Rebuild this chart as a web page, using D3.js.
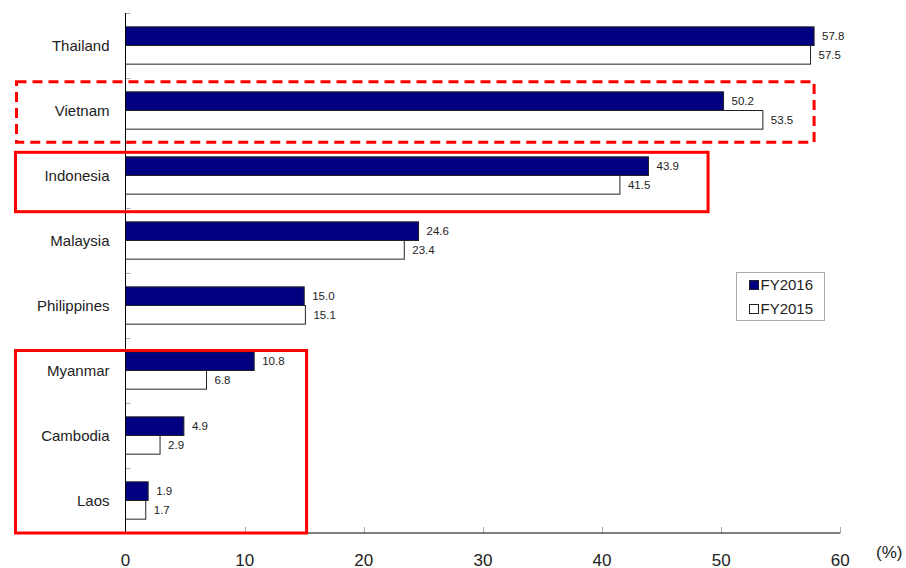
<!DOCTYPE html>
<html>
<head>
<meta charset="utf-8">
<script src="https://cdn.jsdelivr.net/npm/d3@7"></script>
<style>
  html, body { margin: 0; padding: 0; background: #fff; }
  svg { display: block; font-family: Arial, "Liberation Sans", sans-serif; }
</style>
</head>
<body>
<svg id="chart" width="906" height="568"></svg>
<script>
const categories = ["Thailand", "Vietnam", "Indonesia", "Malaysia", "Philippines", "Myanmar", "Cambodia", "Laos"];
const fy2016 = [57.8, 50.2, 43.9, 24.6, 15.0, 10.8, 4.9, 1.9];
const fy2015 = [57.5, 53.5, 41.5, 23.4, 15.1, 6.8, 2.9, 1.7];
const seriesNames = ["FY2016", "FY2015"];
const xTicks = [0, 10, 20, 30, 40, 50, 60];
// highlight boxes: first/last category, right edge in data units
const highlights = [
  { from: "Vietnam", to: "Vietnam", xRight: 57.8, dashed: true, top: 3.7, bottom: -0.7, left: 16.5 },
  { from: "Indonesia", to: "Indonesia", xRight: 48.9, dashed: false, top: 9.3, bottom: 3.7, left: 15.5 },
  { from: "Myanmar", to: "Laos", xRight: 15.2, dashed: false, top: 12.5, bottom: 0, left: 15.5 }
];

const svg = d3.select("#chart");
const x = d3.scaleLinear().domain([0, 60]).range([125.5, 840.3]);
const yOuter = d3.scaleBand().domain(categories).range([13, 533]);
const y = d3.scaleBand().domain(categories).range([13, 533]).paddingInner(0.426).paddingOuter(0.213);
const ySub = d3.scaleBand().domain(seriesNames).range([0, y.bandwidth()]);
const fills = { FY2016: "#000080", FY2015: "#ffffff" };

const data = categories.map((c, i) => ({ cat: c, values: [
  { s: "FY2016", v: fy2016[i] }, { s: "FY2015", v: fy2015[i] }
]}));

// y axis category-boundary ticks
const bounds = categories.map(c => yOuter(c));
svg.append("g").selectAll("line").data(bounds).join("line")
  .attr("x1", x(0)).attr("x2", x(0) + 5)
  .attr("y1", d => Math.round(d) + 0.5).attr("y2", d => Math.round(d) + 0.5)
  .attr("stroke", "#aaa").attr("stroke-width", 1);

// x axis ticks (inner, upward)
svg.append("g").selectAll("line").data(xTicks.slice(1)).join("line")
  .attr("x1", d => Math.round(x(d)) + 0.5).attr("x2", d => Math.round(x(d)) + 0.5)
  .attr("y1", 533).attr("y2", 527)
  .attr("stroke", "#aaa").attr("stroke-width", 1);

// bars
const groups = svg.append("g").selectAll("g").data(data).join("g")
  .attr("transform", d => `translate(0,${y(d.cat)})`);

groups.selectAll("rect").data(d => d.values).join("rect")
  .attr("x", x(0))
  .attr("y", d => ySub(d.s))
  .attr("width", d => x(d.v) - x(0))
  .attr("height", ySub.bandwidth())
  .attr("fill", d => fills[d.s])
  .attr("stroke", "#222").attr("stroke-width", 1);

groups.selectAll("text").data(d => d.values).join("text")
  .attr("x", d => x(d.v) + 8)
  .attr("y", d => ySub(d.s) + ySub.bandwidth() / 2)
  .attr("dy", "0.36em")
  .attr("font-size", 11.5).attr("fill", "#222")
  .text(d => d.v.toFixed(1));

// axis lines
svg.append("line").attr("x1", x(0)).attr("x2", x(0)).attr("y1", 13).attr("y2", 533)
  .attr("stroke", "#000").attr("stroke-width", 1);
svg.append("line").attr("x1", x(0)).attr("x2", x(60)).attr("y1", 533).attr("y2", 533)
  .attr("stroke", "#000").attr("stroke-width", 1);

// category labels
svg.append("g").selectAll("text").data(categories).join("text")
  .attr("x", 109.5)
  .attr("y", d => yOuter(d) + yOuter.bandwidth() / 2)
  .attr("dy", "0.36em")
  .attr("text-anchor", "end")
  .attr("font-size", 15).attr("fill", "#222")
  .text(d => d);

// x tick labels
svg.append("g").selectAll("text").data(xTicks).join("text")
  .attr("x", d => x(d))
  .attr("y", 565.5)
  .attr("text-anchor", "middle")
  .attr("font-size", 17).attr("fill", "#222")
  .text(d => d);

svg.append("text").attr("x", 876).attr("y", 558)
  .attr("font-size", 17).attr("fill", "#222").text("(%)");

// legend
const legend = svg.append("g").attr("transform", "translate(736,272)");
legend.append("rect").attr("x", 0.5).attr("y", 0.5).attr("width", 88).attr("height", 48)
  .attr("fill", "#fff").attr("stroke", "#aaa").attr("stroke-width", 1);
const li = legend.selectAll("g").data(seriesNames).join("g")
  .attr("transform", (d, i) => `translate(13.5,${8.5 + i * 24})`);
li.append("rect").attr("width", 9).attr("height", 9)
  .attr("fill", d => fills[d]).attr("stroke", "#222").attr("stroke-width", 1);
li.append("text").attr("x", 11).attr("y", 4.5).attr("dy", "0.36em")
  .attr("font-size", 15).attr("fill", "#222").text(d => d);

// highlight boxes
svg.append("g").selectAll("rect").data(highlights).join("rect")
  .attr("x", d => d.left)
  .attr("y", d => yOuter(d.from) + d.top)
  .attr("width", d => x(d.xRight) - d.left)
  .attr("height", d => yOuter(d.to) + yOuter.bandwidth() + d.bottom - (yOuter(d.from) + d.top))
  .attr("fill", "none")
  .attr("stroke", "#ff0000").attr("stroke-width", 3)
  .attr("stroke-dasharray", d => d.dashed ? "10,6" : null);
</script>
</body>
</html>
